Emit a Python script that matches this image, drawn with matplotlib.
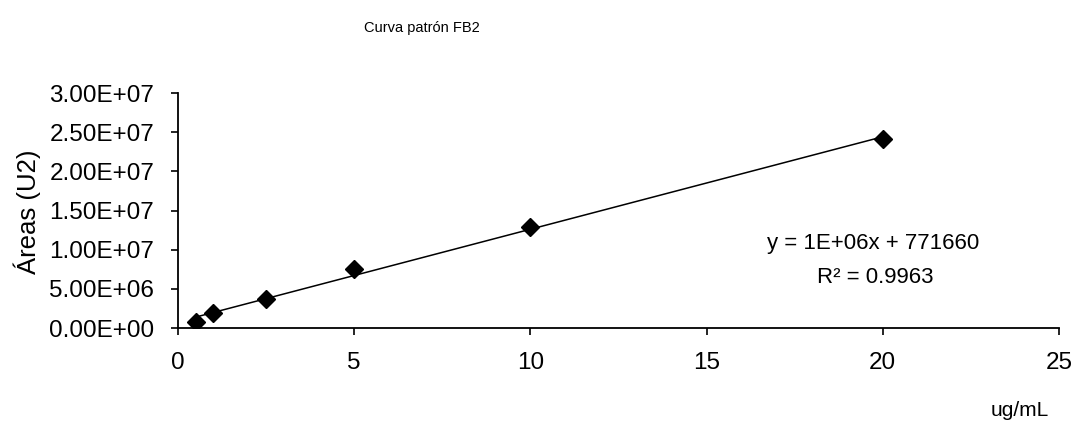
import matplotlib
matplotlib.use("Agg")
import matplotlib.pyplot as plt
import numpy as np
from matplotlib.ticker import FuncFormatter, MultipleLocator

# Calibration standards (ug/mL) and measured peak areas
concentration = [0.5, 1, 2.5, 5, 10, 20]
area = [0.75e6, 1.9e6, 3.7e6, 7.5e6, 12.9e6, 24.1e6]

title = "Curva patrón FB2"
xlabel = "ug/mL"
ylabel = "Áreas (U2)"
eq_text = "y = 1E+06x + 771660"
r2_text = "R² = 0.9963"

plt.rcParams["font.family"] = ["Liberation Sans", "DejaVu Sans"]

fig = plt.figure(figsize=(10.76, 4.21), dpi=100)
ax = fig.add_axes([0.1654, 0.2209, 0.8188, 0.5581])

x = np.array(concentration)
y = np.array(area)
slope, intercept = np.polyfit(x, y, 1)
xf = np.array([x.min(), x.max()])
ax.plot(xf, slope * xf + intercept, color="black", lw=1.1)
ax.plot(x, y, linestyle="none", marker="D", ms=9, color="black")

ax.set_xlim(0, 25)
ax.set_ylim(0, 3e7)
ax.xaxis.set_major_locator(MultipleLocator(5))
ax.yaxis.set_major_locator(MultipleLocator(5e6))
ax.yaxis.set_major_formatter(FuncFormatter(lambda v, p: f"{v:.2E}"))

for s in ("top", "right"):
    ax.spines[s].set_visible(False)
for s in ("left", "bottom"):
    ax.spines[s].set_linewidth(1.3)
ax.tick_params(axis="both", direction="out", length=5, width=1.2,
               labelsize=17.5, colors="black")
ax.tick_params(axis="y", pad=12)
ax.tick_params(axis="x", pad=12)

ax.text(19.72, 10.85e6, eq_text, ha="center", va="center", fontsize=16)
ax.text(19.78, 6.5e6, r2_text, ha="center", va="center", fontsize=16)

fig.text(0.392, 0.933, title, ha="center", va="center", fontsize=10.5)
fig.text(0.948, 0.026, xlabel, ha="center", va="center", fontsize=15)
fig.text(0.025, 0.496, ylabel, ha="center", va="center", rotation=90,
         fontsize=18.5)

fig.savefig("out.png", dpi=100)
